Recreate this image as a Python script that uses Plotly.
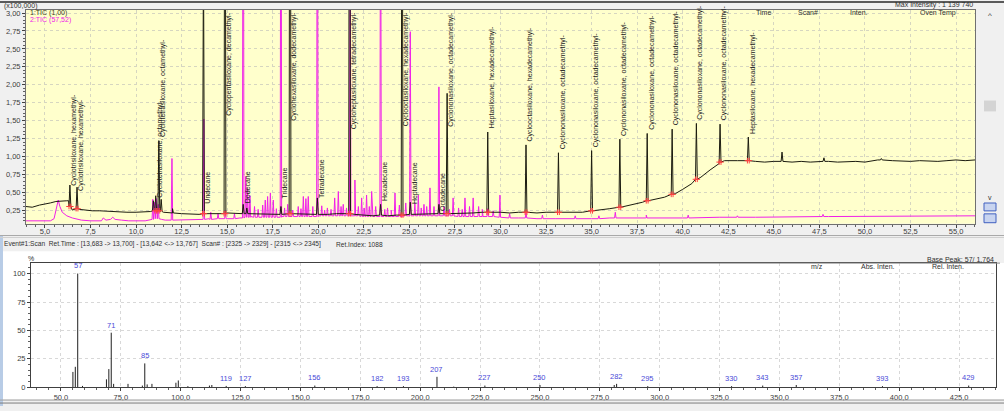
import plotly.graph_objects as go

W, H = 1004, 411

# ---------------- 1:TIC (x100,000) ----------------
tic1_base_t = [3.96, 4.3, 4.7, 5.0, 5.3, 5.6, 5.9, 6.2, 6.3, 6.5, 6.65, 6.9, 7.2, 7.6, 8.0, 8.5, 9.0, 9.5, 10.0,
               10.5, 10.8, 11.5, 12.0, 12.5, 13.0, 13.5, 14.0, 14.5, 15.0, 15.5, 16.5, 17.0, 17.5, 19.0, 19.5,
               20.5, 21.0, 22.0, 22.5, 23.0, 23.8, 24.3, 25.5, 26.0, 26.5, 27.5, 28.0, 28.5, 29.0, 30.0, 30.5,
               31.0, 32.0, 32.5, 33.5, 34.5, 35.5, 36.0, 36.8, 37.4, 37.8, 38.5, 39.0, 39.6, 40.0, 40.5, 41.0,
               41.5, 42.0, 42.3, 43.0, 44.0, 44.5, 45.0, 46.0, 46.5, 47.0, 48.0, 48.5, 49.5, 50.0, 50.7, 51.5,
               52.5, 53.0, 54.0, 54.5, 55.0, 55.5, 56.04]
tic1_base_v = [0.30, 0.29, 0.32, 0.33, 0.35, 0.37, 0.38, 0.38, 0.38, 0.25, 0.26, 0.26, 0.25, 0.24, 0.24, 0.23, 0.23,
               0.22, 0.22, 0.22, 0.23, 0.22, 0.21, 0.20, 0.19, 0.19, 0.20, 0.20, 0.21, 0.20, 0.20, 0.19, 0.20,
               0.20, 0.19, 0.19, 0.20, 0.19, 0.18, 0.17, 0.17, 0.18, 0.19, 0.20, 0.20, 0.20, 0.21, 0.21, 0.22,
               0.22, 0.21, 0.22, 0.21, 0.22, 0.22, 0.22, 0.25, 0.27, 0.30, 0.33, 0.36, 0.40, 0.43, 0.48, 0.54,
               0.62, 0.71, 0.81, 0.90, 0.94, 0.94, 0.93, 0.92, 0.93, 0.92, 0.93, 0.92, 0.93, 0.92, 0.93, 0.92,
               0.95, 0.94, 0.93, 0.94, 0.93, 0.94, 0.95, 0.94, 0.95]
tic1_peak_t = [6.37, 6.76, 10.95, 11.08, 11.25, 11.38, 12.0, 13.70, 14.88, 15.88, 16.08, 17.95, 18.45, 19.95,
               21.72, 23.42, 24.60, 25.05, 26.62, 27.07, 29.30, 31.40, 33.18, 35.00, 36.55, 38.05, 39.42,
               40.75, 42.05, 43.60, 45.45, 47.75, 50.90]
tic1_peak_v = [0.60, 0.57, 0.38, 0.45, 1.22, 0.40, 0.27, 4.0, 9.0, 0.33, 0.28, 0.30, 11.4, 0.42,
               10.0, 0.33, 7.0, 0.36, 0.33, 1.88, 1.34, 1.16, 1.05, 1.08, 1.24, 1.32, 1.38,
               1.46, 1.45, 1.27, 1.06, 0.98, 0.97]
tic1_peak_foot = [0.30, 0.27, 0.24, 0.24, 0.24, 0.23, 0.21, 0.20, 0.20, 0.20, 0.20, 0.19, 0.20, 0.19,
                  0.20, 0.18, 0.18, 0.19, 0.20, 0.20, 0.22, 0.22, 0.22, 0.24, 0.29, 0.38, 0.47,
                  0.68, 0.92, 0.94, 0.93, 0.93, 0.95]
tic1_marked = [6.37, 6.76, 11.08, 11.25, 13.70, 14.88, 18.45, 21.72, 24.60, 27.07, 29.30, 31.40, 33.18,
               35.00, 36.55, 38.05, 39.42, 40.75, 42.05, 43.60]

# ---------------- 2:TIC (x100,000) ----------------
tic2_base_t = [3.96, 5.3, 5.5, 5.65, 5.73, 5.82, 5.95, 6.2, 6.5, 7.0, 7.5, 8.1, 8.2, 8.35, 8.6, 8.72, 8.85, 9.2,
               9.6, 10.5, 10.85, 11.4, 11.6, 12.5, 13.3, 14.0, 15.0, 15.7, 16.3, 17.0, 18.0, 19.0, 20.0, 21.0,
               22.0, 23.0, 24.0, 25.0, 26.0, 27.0, 28.0, 29.0, 30.0, 31.0, 32.0, 33.0, 34.0, 35.0, 36.0, 38.0,
               40.0, 42.0, 44.0, 46.0, 48.0, 50.0, 52.0, 54.0, 56.04]
tic2_base_v = [0.10, 0.10, 0.13, 0.30, 0.39, 0.30, 0.22, 0.17, 0.14, 0.11, 0.10, 0.10, 0.14, 0.11, 0.12, 0.15,
               0.12, 0.11, 0.10, 0.10, 0.12, 0.12, 0.11, 0.11, 0.12, 0.13, 0.13, 0.14, 0.16, 0.15, 0.16, 0.16,
               0.17, 0.17, 0.17, 0.16, 0.16, 0.17, 0.17, 0.17, 0.16, 0.16, 0.15, 0.14, 0.13, 0.13, 0.13, 0.13,
               0.14, 0.14, 0.14, 0.15, 0.15, 0.15, 0.16, 0.16, 0.16, 0.17, 0.17]
tic2_peak_t = [10.92, 11.02, 11.12, 11.22, 11.97, 13.72, 14.1, 14.5, 14.9, 15.4, 15.88, 16.02, 16.12, 16.25,
               16.5, 16.7, 16.95, 17.09, 17.22, 17.37, 17.53, 17.7, 17.95, 18.15, 18.32, 18.6, 18.9, 19.05,
               19.18, 19.32, 19.45, 19.7, 19.95, 20.19, 20.35, 20.5, 20.7, 20.9, 21.1, 21.25, 21.37, 21.55,
               21.75, 22.01, 22.2, 22.38, 22.52, 22.65, 22.8, 22.93, 23.15, 23.42, 23.65, 23.8, 24.0, 24.21,
               24.45, 24.8, 25.05, 25.3, 25.49, 25.65, 25.8, 25.95, 26.13, 26.35, 26.62, 26.9, 27.2, 27.4,
               27.7, 27.9, 28.05, 28.3, 28.5, 28.8, 29.0, 29.3, 29.6, 29.97, 30.5, 31.4, 32.3, 34.1, 35.4,
               36.3, 38.0, 40.3, 43.0, 47.7]
tic2_peak_v = [0.40, 0.36, 0.41, 0.33, 0.97, 1.52, 0.22, 0.20, 0.24, 0.20, 9.0, 0.72, 0.55, 0.45,
               0.30, 0.26, 0.32, 0.39, 0.44, 0.49, 0.39, 0.27, 8.0, 0.28, 0.33, 0.25, 0.30, 0.27,
               0.44, 0.41, 0.44, 0.30, 7.0, 0.31, 0.25, 0.28, 0.26, 0.42, 0.51, 0.30, 0.33, 0.28,
               5.0, 0.67, 0.30, 0.42, 0.28, 0.46, 0.30, 0.51, 0.30, 6.0, 0.26, 0.28, 0.25, 0.49,
               0.32, 0.35, 2.74, 0.35, 0.46, 0.28, 0.33, 0.30, 0.56, 0.30, 1.97, 0.30, 0.26, 0.42,
               0.28, 0.26, 0.42, 0.30, 0.42, 0.30, 0.26, 0.27, 0.24, 0.46, 0.20, 0.22, 0.18, 0.17, 0.17,
               0.22, 0.18, 0.18, 0.17, 0.19]
tic2_peak_foot = [0.12, 0.13, 0.13, 0.13, 0.11, 0.12, 0.12, 0.13, 0.13, 0.13, 0.14, 0.15, 0.15, 0.15,
                  0.15, 0.15, 0.15, 0.15, 0.15, 0.15, 0.15, 0.15, 0.15, 0.16, 0.16, 0.16, 0.16, 0.16,
                  0.16, 0.16, 0.16, 0.16, 0.16, 0.17, 0.17, 0.17, 0.17, 0.17, 0.17, 0.17, 0.17, 0.17,
                  0.17, 0.17, 0.17, 0.16, 0.16, 0.16, 0.16, 0.16, 0.16, 0.16, 0.16, 0.16, 0.16, 0.16,
                  0.16, 0.17, 0.17, 0.17, 0.17, 0.17, 0.17, 0.17, 0.17, 0.17, 0.17, 0.17, 0.17, 0.17,
                  0.16, 0.16, 0.16, 0.16, 0.16, 0.16, 0.16, 0.16, 0.16, 0.15, 0.14, 0.14, 0.13, 0.13, 0.13,
                  0.14, 0.14, 0.14, 0.15, 0.16]

# ---------------- peak labels ----------------
label_t = [6.37, 6.76, 11.08, 11.25, 13.72, 14.88, 15.88, 17.95, 18.45, 19.95, 21.72, 23.42, 24.60, 25.05,
           26.62, 27.07, 29.30, 31.40, 33.18, 35.00, 36.55, 38.05, 39.42, 40.75, 42.05, 43.60]
label_text = ["Cyclotrisiloxane, hexamethyl-", "Cyclotrisiloxane, hexamethyl-",
              "Cyclotetrasiloxane, octamethyl-", "Cyclotetrasiloxane, octamethyl-",
              "Undecane", "Cyclopentasiloxane, decamethyl-", "Dodecane", "Tridecane",
              "Cyclohexasiloxane, dodecamethyl-", "Tetradecane", "Cycloheptasiloxane, tetradecamethyl-",
              "Hexadecane", "Cyclooctasiloxane, hexadecamethyl-", "Heptadecane", "Octadecane",
              "Cyclononasiloxane, octadecamethyl-", "Heptasiloxane, hexadecamethyl-",
              "Cyclooctasiloxane, hexadecamethyl-", "Cyclononasiloxane, octadecamethyl-",
              "Cyclononasiloxane, octadecamethyl-", "Cyclononasiloxane, octadecamethyl-",
              "Cyclononasiloxane, octadecamethyl-", "Cyclononasiloxane, octadecamethyl-",
              "Cyclononasiloxane, octadecamethyl-", "Cyclononasiloxane, octadecamethyl-",
              "Heptasiloxane, hexadecamethyl-"]
# None = label hangs from the top of the plot (off-scale peak)
label_y = [0.56, 0.49, 0.39, 1.24, 0.31, None, 0.32, 0.39, None, 0.39, None, 0.35, None, 0.31,
           0.21, None, 1.36, 1.18, 1.07, 1.10, 1.26, 1.34, 1.40, 1.48, 1.47, 1.29]

# ---------------- mass spectrum ----------------
ms_mz = [55, 56, 57, 59, 69, 70, 71, 72, 78, 84, 85, 86, 88, 98, 99, 103, 112, 113, 119, 127, 156,
         182, 193, 207, 214, 227, 250, 281, 282, 295, 330, 343, 357, 393, 429]
ms_int = [13.5, 18, 100, 1.2, 7, 16, 48, 3, 3, 1.5, 21, 2.5, 3, 4, 6, 1, 1.5, 2, 1.2, 1, 1.5,
          1, 1, 9.2, 0.6, 1.5, 2, 2, 3, 1, 1, 1.5, 2, 1, 1.5]
ms_label = [57, 71, 85, 119, 127, 156, 182, 193, 207, 227, 250, 282, 295, 330, 343, 357, 393, 429]

BLACK = "#1c1c10"
MAG = "#f020e8"
FONT = "Liberation Sans"


def build(bt, bv, pt, pv, pf, hw):
    pts = list(zip(bt, bv))
    for t, v, f in zip(pt, pv, pf):
        pts += [(t - hw, f), (t, v), (t + hw, f)]
    pts.sort(key=lambda p: p[0])
    return [p[0] for p in pts], [p[1] for p in pts]


x1, y1 = build(tic1_base_t, tic1_base_v, tic1_peak_t, tic1_peak_v, tic1_peak_foot, 0.05)
x2, y2 = build(tic2_base_t, tic2_base_v, tic2_peak_t, tic2_peak_v, tic2_peak_foot, 0.04)

fig = go.Figure()
fig.add_trace(go.Scatter(x=x2, y=y2, mode="lines", line=dict(color=MAG, width=1), xaxis="x", yaxis="y",
                         hoverinfo="skip", showlegend=False))
fig.add_trace(go.Scatter(x=x1, y=y1, mode="lines", line=dict(color=BLACK, width=1), xaxis="x", yaxis="y",
                         hoverinfo="skip", showlegend=False))

# red integration marks at peak feet
mk_x, mk_y = [], []
for t, f in zip(tic1_peak_t, tic1_peak_foot):
    if t in tic1_marked:
        mk_x += [t - 0.05, t + 0.05]
        mk_y += [f, f]
fig.add_trace(go.Scatter(x=mk_x, y=mk_y, mode="markers", xaxis="x", yaxis="y", hoverinfo="skip",
                         marker=dict(symbol="cross-thin", size=4, line=dict(color="#ff4040", width=1)),
                         showlegend=False))

# mass spectrum sticks
sx, sy = [], []
for m, v in zip(ms_mz, ms_int):
    sx += [m, m, None]
    sy += [0, v, None]
fig.add_trace(go.Scatter(x=sx, y=sy, mode="lines", line=dict(color="#202020", width=1), xaxis="x2",
                         yaxis="y2", hoverinfo="skip", showlegend=False))

ann = []
for t, txt_, yy in zip(label_t, label_text, label_y):
    if yy is None:
        ann.append(dict(x=t + 0.22, y=3.04, xref="x", yref="y", text=txt_, textangle=-90, showarrow=False,
                        xanchor="center", yanchor="top", font=dict(family=FONT, size=7, color="#202020")))
    else:
        ann.append(dict(x=t + 0.22, y=yy, xref="x", yref="y", text=txt_, textangle=-90, showarrow=False,
                        xanchor="center", yanchor="bottom", font=dict(family=FONT, size=7, color="#202020")))

for m in ms_label:
    v = ms_int[ms_mz.index(m)]
    ann.append(dict(x=m, y=v + 1, xref="x2", yref="y2", text=str(m), showarrow=False, xanchor="center",
                    yanchor="bottom", font=dict(family=FONT, size=7.5, color="#4a4ad8")))


def px(x):
    return x / W


def py(y):
    return 1 - y / H


def txt(x, y, s, anchor="left", color="#303030", size=7.5):
    ann.append(dict(x=px(x), y=py(y), xref="paper", yref="paper", text=s, showarrow=False, xanchor=anchor,
                    yanchor="middle", font=dict(family=FONT, size=size, color=color)))


NB = "\u00a0"
txt(2, 5, "(x100,000)", size=7)
txt(28, 12, "1:TIC (1,00)", color="#3a3a20", size=7)
txt(28, 19, "2:TIC (57,52)", color=MAG, size=7)
txt(975, 4, "Max Intensity : 1" + NB + "139" + NB + "740", anchor="right", size=7)
txt(763, 12, "Time", anchor="center", size=7)
txt(808, 12, "Scan#", anchor="center", size=7)
txt(859, 12, "Inten.", anchor="center", size=7)
txt(938, 12, "Oven Temp", anchor="center", size=7)
txt(990, 15, "^", anchor="center", size=8)
txt(990, 199, "v", anchor="center", size=7)
txt(2, 247, "Event#1:Scan" + NB * 2 + "Ret.Time : [13,683 -> 13,700] - [13,642 <-> 13,767]" + NB * 2 +
    "Scan# : [2325 -> 2329] - [2315 <-> 2345]", size=6.6)
txt(334, 247, "Ret.Index: 1088", size=6.6)
txt(31, 261, "%", anchor="center", size=7)
txt(996, 262, "Base Peak: 57/ 1,764", anchor="right", size=7)
txt(817, 269, "m/z", anchor="center", size=7)
txt(878, 269, "Abs. Inten.", anchor="center", size=7)
txt(948, 269, "Rel. Inten.", anchor="center", size=7)


def rect(x0, y0, x1_, y1_, fill, line=None, layer="below"):
    return dict(type="rect", xref="paper", yref="paper", x0=px(x0), x1=px(x1_), y0=py(y1_), y1=py(y0),
                fillcolor=fill, line=dict(width=1 if line else 0, color=line or fill), layer=layer)


def hline(y, x0, x1_, color, width=1):
    return dict(type="line", xref="paper", yref="paper", x0=px(x0), x1=px(x1_), y0=py(y), y1=py(y),
                line=dict(color=color, width=width))


shapes = [
    rect(0, 254, 1004, 404, "#ffffff"),
    rect(330, 241, 1004, 266, "#f0f0f0"),
    rect(0, 238, 3, 411, "#b8cce6"),
    hline(1, 0, 1004, "#5a5a5a", 2),
    hline(238, 0, 1004, "#a8a8a8", 1),
    hline(240, 0, 1004, "#d0d0d0", 1),
    hline(266, 330, 1000, "#8c8c8c", 1),
    hline(405, 0, 1004, "#a0a0a0", 1),
    hline(408, 0, 1004, "#7c7c7c", 1),
    rect(984, 101, 996, 112, "#d4d4d4", layer="above"),
    rect(984, 205, 996, 213, "#c8d4f0", line="#4060c0", layer="above"),
    rect(984, 216, 996, 225, "#c8d4f0", line="#4060c0", layer="above"),
    dict(type="rect", xref="x2 domain", yref="y2 domain", x0=0, x1=1, y0=0, y1=1,
         fillcolor="#ffffff", line=dict(width=0), layer="below"),
]

tickfont = dict(family=FONT, size=7.5, color="#404040")
fig.update_layout(
    width=W, height=H, autosize=False, margin=dict(l=0, r=0, t=0, b=0),
    paper_bgcolor="#f0f0f0", plot_bgcolor="#ffffcc", separators=", ",
    showlegend=False, annotations=ann, shapes=shapes,
    xaxis=dict(domain=[px(26), px(975)], range=[3.96, 56.04], tick0=0, dtick=2.5, tickformat=".1f",
               showgrid=True, gridcolor="#d6d6c0", griddash="dot", zeroline=False,
               showline=True, linecolor="#707070", mirror=True, ticks="outside", ticklen=3,
               tickcolor="#404040", tickfont=tickfont, anchor="y", ticklabelstandoff=-3,
               minor=dict(dtick=0.5, ticklen=2, tickcolor="#606060", showgrid=False)),
    yaxis=dict(domain=[py(226), py(9)], range=[0.06, 3.045], tick0=0, dtick=0.25, tickformat=".2f",
               showgrid=True, gridcolor="#d6d6c0", griddash="dot", zeroline=False,
               showline=True, linecolor="#707070", mirror=True, ticks="outside", ticklen=3,
               tickcolor="#404040", tickfont=tickfont, anchor="x",
               minor=dict(dtick=0.05, ticklen=2, tickcolor="#606060", showgrid=False)),
    xaxis2=dict(domain=[px(31), px(996)], range=[37.5, 440.4], tick0=0, dtick=25, tickformat=".1f",
                showgrid=True, gridcolor="#d8d8d8", griddash="dot", zeroline=False,
                showline=True, linecolor="#404040", mirror=True, ticks="outside", ticklen=3,
                tickcolor="#404040", tickfont=tickfont, anchor="y2",
                minor=dict(dtick=5, ticklen=2, tickcolor="#606060", showgrid=False)),
    yaxis2=dict(domain=[py(392), py(266)], range=[0, 109.2], tick0=0, dtick=25, tickformat="d",
                showgrid=True, gridcolor="#d8d8d8", griddash="dot", zeroline=False,
                showline=True, linecolor="#404040", mirror=True, ticks="outside", ticklen=3,
                tickcolor="#404040", tickfont=tickfont, anchor="x2",
                minor=dict(dtick=5, ticklen=2, tickcolor="#606060", showgrid=False)),
)

fig.write_html("out.html", include_plotlyjs=True, config={"displayModeBar": False},
               post_script="document.body.style.margin='0';document.body.style.overflow='hidden';")
